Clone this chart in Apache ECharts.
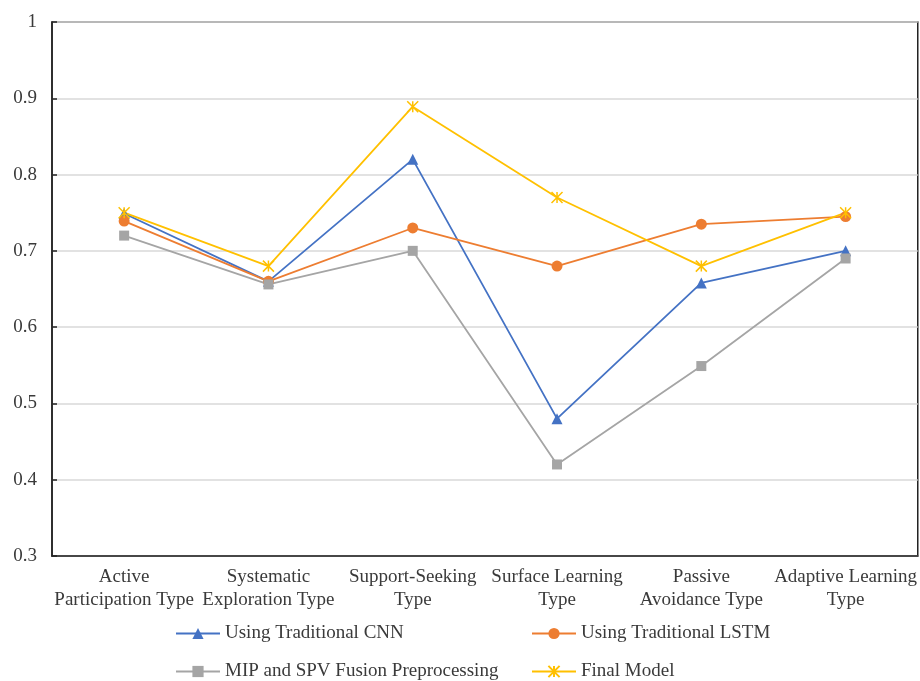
<!DOCTYPE html>
<html><head><meta charset="utf-8">
<script src="https://cdn.jsdelivr.net/npm/echarts@6/dist/echarts.min.js"></script>
<style>html,body{margin:0;padding:0;background:#fff}#c{width:920px;height:681px}</style>
</head><body><div id="c"></div>
<script>
const categories = ["Active\nParticipation Type","Systematic\nExploration Type","Support-Seeking\nType","Surface Learning\nType","Passive\nAvoidance Type","Adaptive Learning\nType"];
const cnn = [0.749, 0.660, 0.820, 0.480, 0.658, 0.700];
const lstm = [0.739, 0.660, 0.730, 0.680, 0.735, 0.745];
const mip = [0.720, 0.656, 0.700, 0.420, 0.549, 0.690];
const finalModel = [0.750, 0.680, 0.889, 0.770, 0.680, 0.750];
const yTicks = [0.3, 1.0, 0.1];
const names = ["Using Traditional CNN","Using Traditional LSTM","MIP and SPV Fusion Preprocessing","Final Model"];

const font = "Liberation Serif";
const txt = "#3a3a3a";
const star = 'path://M0,0L10,10M10,0L0,10M5,0L5,10';
const chart = echarts.init(document.getElementById('c'));
const legendBase = {itemWidth: 44, itemHeight: 14, itemGap: 4, textStyle:{fontFamily:font, fontSize:19, color:txt}, padding:0};
chart.setOption({
  animation:false,
  grid:{left:52, right:1, top:22, bottom:125, show:true, borderColor:'#222', borderWidth:1.5},
  legend:[
    Object.assign({}, legendBase, {data:[names[0]], left:175, top:624}),
    Object.assign({}, legendBase, {data:[names[1]], left:531, top:624}),
    Object.assign({}, legendBase, {data:[names[2]], left:175, top:662}),
    Object.assign({}, legendBase, {data:[names[3]], left:531, top:662})
  ],
  xAxis:{type:'category', data:categories, boundaryGap:true,
    axisLine:{lineStyle:{color:'#222', width:1.5}},
    axisTick:{inside:true, length:5, lineStyle:{color:'#222', width:1.5}},
    axisLabel:{fontFamily:font, fontSize:19, color:txt, lineHeight:23, margin:10, interval:0}},
  yAxis:{type:'value', min:yTicks[0], max:yTicks[1], interval:yTicks[2],
    axisLine:{show:true, lineStyle:{color:'#222', width:1.5}},
    axisTick:{show:true, inside:true, length:5, lineStyle:{color:'#222', width:1.5}},
    axisLabel:{fontFamily:font, fontSize:19, color:txt, margin:15},
    splitLine:{lineStyle:{color:'#d9d9d9', width:1.5}}},
  series:[
    {name:names[0], type:'line', data:cnn, symbol:'triangle', symbolSize:11, color:'#4472C4', lineStyle:{width:1.8}},
    {name:names[1], type:'line', data:lstm, symbol:'circle', symbolSize:11, color:'#ED7D31', lineStyle:{width:1.8}},
    {name:names[2], type:'line', data:mip, symbol:'rect', symbolSize:10, color:'#A5A5A5', lineStyle:{width:1.8}},
    {name:names[3], type:'line', data:finalModel, symbol:star, symbolSize:11, color:'#FFC000', lineStyle:{width:1.8},
      itemStyle:{color:'#FFC000', borderColor:'#FFC000', borderWidth:1.5}}
  ]
});
</script></body></html>
